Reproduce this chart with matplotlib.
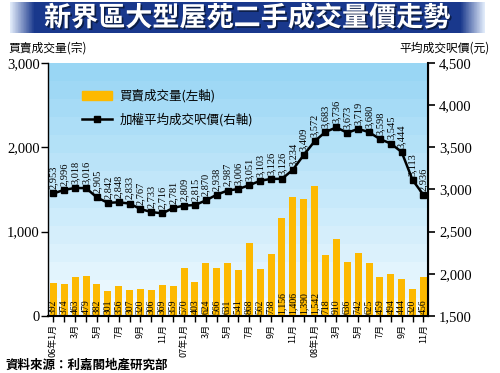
import numpy as np
import matplotlib
matplotlib.use("Agg")
import matplotlib.pyplot as plt
import matplotlib.patheffects as pe
from matplotlib.patches import Patch
from matplotlib.lines import Line2D

plt.rcParams['font.family'] = ['Noto Sans CJK TC', 'DejaVu Sans']

# monthly data, Jan 2006 - Nov 2008
volume = [392, 374, 463, 479, 382, 301, 356, 307, 320, 306, 369, 359,
          570, 403, 624, 566, 631, 541, 868, 562, 738, 1156, 1406, 1390,
          1542, 718, 910, 636, 742, 625, 459, 494, 444, 320, 456]
price = [2953, 2996, 3018, 3016, 2905, 2842, 2848, 2833, 2767, 2733, 2716, 2781,
         2809, 2815, 2870, 2938, 2987, 3006, 3051, 3103, 3126, 3126, 3234, 3409,
         3572, 3683, 3736, 3673, 3719, 3680, 3598, 3545, 3444, 3113, 2936]
month_labels = ["06年1月", "3月", "5月", "7月", "9月", "11月",
                "07年1月", "3月", "5月", "7月", "9月", "11月",
                "08年1月", "3月", "5月", "7月", "9月", "11月"]

title = "新界區大型屋苑二手成交量價走勢"
source = "資料來源：利嘉閣地產研究部"
bar_color = "#fdb900"
serif = "Liberation Serif"

x = np.arange(len(volume))

fig = plt.figure(figsize=(5, 3.73), dpi=100)

# title banner with horizontal gradient
bax = fig.add_axes([0.02, 0.912, 0.95, 0.083])
prof = np.linspace(-1, 1, 300)
shade = np.clip((1 - np.abs(prof)) * 10, 0, 1)
light = np.array([0.88, 0.92, 0.98])
dark = np.array([0.10, 0.22, 0.55])
row = light[None, :] * (1 - shade[:, None]) + dark[None, :] * shade[:, None]
bax.imshow(row[None, :, :], aspect="auto", extent=[0, 1, 0, 1])
bax.set_axis_off()
bax.text(0.5, 0.48, title, color="white", fontsize=19.5, fontweight="bold",
         ha="center", va="center", transform=bax.transAxes,
         path_effects=[pe.withSimplePatchShadow(offset=(1.2, -1.2),
                                                shadow_rgbFace="#0a1a40", alpha=0.9)])

ax = fig.add_axes([0.096, 0.153, 0.76, 0.678])
ax2 = ax.twinx()

# background: stepped vertical gradient
nb = 14
top_c = np.array([0.60, 0.84, 0.96])
bot_c = np.array([0.94, 0.98, 1.0])
t = np.linspace(0, 1, nb)[:, None]
grad = bot_c * (1 - t) + top_c * t
ax.imshow(grad[::-1][:, None, :], aspect="auto", extent=[-0.5, 34.42, 0, 3000],
          zorder=0, interpolation="nearest")

ax.bar(x, volume, width=0.64, color=bar_color, zorder=2)
for i, v in enumerate(volume):
    ax.text(i, 25, f"{v:,}", rotation=90, ha="center", va="bottom",
            fontsize=7, family=serif, zorder=3)

ax.set_xlim(-0.5, 34.42)
ax.set_ylim(0, 3000)
ax.set_yticks([0, 1000, 2000, 3000])
ax.set_yticklabels(["0", "1,000", "2,000", "3,000"], family=serif, fontsize=10.5)
ax.set_xticks(x[::2])
ax.set_xticklabels(month_labels, rotation=90, fontsize=6.5, va="top")
ax.set_xticks(x, minor=True)
ax.tick_params(axis="x", which="both", length=4, width=1, direction="out", pad=2)
ax.tick_params(axis="y", length=5, width=1, pad=1)

ax2.plot(x, price, color="black", lw=1.8, marker="s", ms=4, zorder=4)
for i, p in enumerate(price):
    ax2.annotate(f"{p:,}", (i, p), xytext=(0, 3), textcoords="offset points",
                 rotation=90, ha="center", va="bottom", fontsize=7.5, family=serif)
ax2.set_ylim(1500, 4500)
ax2.set_yticks(np.arange(1500, 4501, 500))
ax2.set_yticklabels([f"{v:,}" for v in range(1500, 4501, 500)], family=serif, fontsize=10.5)
ax2.tick_params(axis="y", length=5, width=1.2, pad=3)

for a in (ax, ax2):
    a.spines["top"].set_visible(False)
ax2.spines["right"].set_linewidth(1.5)
ax.spines["bottom"].set_linewidth(1.5)
ax.spines["left"].set_linewidth(1.0)
ax2.spines["left"].set_visible(False)
ax2.spines["bottom"].set_visible(False)

handles = [Patch(color=bar_color),
           Line2D([], [], color="black", lw=1.8, marker="s", ms=4)]
ax2.legend(handles, ["買賣成交量(左軸)", "加權平均成交呎價(右軸)"], loc="upper left",
           bbox_to_anchor=(0.06, 0.94), frameon=False, fontsize=9,
           handlelength=2.4, labelspacing=0.75, handletextpad=0.6)

fig.text(0.016, 0.872, "買賣成交量(宗)", fontsize=8.5, va="center")
fig.text(0.98, 0.872, "平均成交呎價(元)", fontsize=8.5, va="center", ha="right")
fig.text(0.01, 0.022, source, fontsize=9, fontweight="bold", va="center")

fig.savefig("out.png", dpi=100)
